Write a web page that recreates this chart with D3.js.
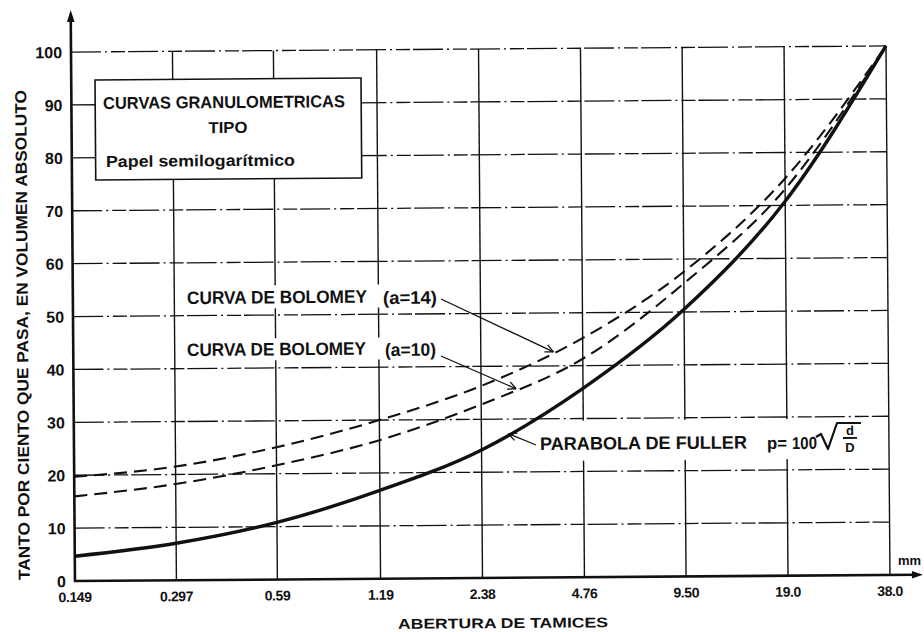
<!DOCTYPE html>
<html>
<head>
<meta charset="utf-8">
<script src="https://cdn.jsdelivr.net/npm/d3@7"></script>
<style>
  html, body { margin: 0; padding: 0; background: #fff; }
  svg { display: block; }
  text { font-family: "Liberation Sans", Arial, sans-serif; font-weight: bold; fill: #111; }
</style>
</head>
<body>
<svg id="chart" width="924" height="632"></svg>
<script>
// ---- data ----
const sieves = [0.149, 0.297, 0.59, 1.19, 2.38, 4.76, 9.50, 19.0, 38.0];
const sieveLabels = ["0.149", "0.297", "0.59", "1.19", "2.38", "4.76", "9.50", "19.0", "38.0"];
const yTicks = [0, 10, 20, 30, 40, 50, 60, 70, 80, 90, 100];
const fuller    = [4.7, 7.0, 10.8, 16.7, 24.2, 35.7, 50.5, 70.8, 100];
const bolomey14 = [19.7, 21.5, 25.0, 30.0, 36.3, 45.2, 57.6, 75.1, 100];
const bolomey10 = [16.0, 18.2, 21.6, 26.2, 32.8, 41.3, 55.4, 73.1, 100];
const boxLines = ["CURVAS GRANULOMETRICAS", "TIPO", "Papel semilogarítmico"];
const xTitle = "ABERTURA DE TAMICES";
const yTitle = "TANTO POR CIENTO QUE PASA, EN VOLUMEN ABSOLUTO";
const unitLabel = "mm";

const svg = d3.select("#chart");
svg.append("rect").attr("width", 924).attr("height", 632).attr("fill", "#fff");

// slight scan rotation of the original page
const ANG = -0.43, CX = 480, CY = 316;
const g = svg.append("g").attr("transform", `rotate(${ANG},${CX},${CY})`);
// convert a position measured on the page into the rotated frame
function P(mx, my) {
  const a = -ANG * Math.PI / 180;
  const dx = mx - CX, dy = my - CY;
  return [CX + dx * Math.cos(a) - dy * Math.sin(a), CY + dx * Math.sin(a) + dy * Math.cos(a)];
}

const x = d3.scaleLog().domain([0.149, 38]).range([73, 888]);
const y = d3.scaleLinear().domain([0, 100]).range([578, 49]);

const ink = "#111";

// ---- grid ----
g.append("g").selectAll("line").data(yTicks.filter(d => d > 0)).join("line")
  .attr("x1", x(sieves[0])).attr("x2", x(sieves[sieves.length - 1]))
  .attr("y1", d => y(d)).attr("y2", d => y(d))
  .attr("stroke", ink).attr("stroke-width", 1.3)
  .attr("stroke-dasharray", "30,4,2,4,14,3");

g.append("g").selectAll("line").data(sieves.slice(1)).join("line")
  .attr("x1", d => x(d)).attr("x2", d => x(d))
  .attr("y1", y(0)).attr("y2", y(100))
  .attr("stroke", ink).attr("stroke-width", 1.4);

// ---- label backgrounds ----
function bg(x0, y0, x1, y1) {
  const a = P(x0, y0);
  g.append("rect").attr("x", a[0]).attr("y", a[1]).attr("width", x1 - x0).attr("height", y1 - y0).attr("fill", "#fff");
}
bg(183, 286, 440, 309);
bg(183, 339, 440, 361);
bg(537, 421, 866, 461);

// ---- curves ----
function seriesPts(vals) { return sieves.map((d, i) => [x(d), y(vals[i])]); }
const line = d3.line().curve(d3.curveMonotoneX);
g.append("path").attr("d", line(seriesPts(bolomey14))).attr("fill", "none")
  .attr("stroke", ink).attr("stroke-width", 2.1).attr("stroke-dasharray", "13,7");
g.append("path").attr("d", line(seriesPts(bolomey10))).attr("fill", "none")
  .attr("stroke", ink).attr("stroke-width", 2.1).attr("stroke-dasharray", "13,7");
g.append("path").attr("d", line(seriesPts(fuller))).attr("fill", "none")
  .attr("stroke", ink).attr("stroke-width", 3.4);

// ---- axes ----
g.append("line").attr("x1", x(sieves[0])).attr("x2", x(sieves[0]))
  .attr("y1", y(0) + 1).attr("y2", 16).attr("stroke", ink).attr("stroke-width", 2.6);
g.append("path").attr("d", `M${x(sieves[0])},7 L${x(sieves[0]) - 3.8},19 L${x(sieves[0]) + 3.8},19 Z`).attr("fill", ink);
g.append("line").attr("x1", x(sieves[0]) - 1).attr("x2", 914)
  .attr("y1", y(0)).attr("y2", y(0)).attr("stroke", ink).attr("stroke-width", 2.6);
g.append("path").attr("d", `M921,${y(0)} L910,${y(0) - 3.8} L910,${y(0) + 3.8} Z`).attr("fill", ink);

// tick labels
g.append("g").selectAll("text").data(yTicks).join("text")
  .attr("x", x(sieves[0]) - 9).attr("y", d => y(d) + 6)
  .attr("text-anchor", "end").attr("font-size", 16).text(d => d);
g.append("g").selectAll("text").data(sieves).join("text")
  .attr("x", d => x(d)).attr("y", y(0) + 21)
  .attr("text-anchor", "middle").attr("font-size", 14).attr("letter-spacing", -0.4)
  .text((d, i) => sieveLabels[i]);

// axis titles
{
  const p = P(503, 628);
  g.append("text").attr("x", p[0]).attr("y", p[1]).attr("text-anchor", "middle")
    .attr("font-size", 14).attr("textLength", 210).attr("lengthAdjust", "spacingAndGlyphs").text(xTitle);
  const q = P(28, 335);
  g.append("text").attr("transform", `translate(${q[0]},${q[1]}) rotate(-90)`)
    .attr("text-anchor", "middle").attr("font-size", 16)
    .attr("textLength", 490).attr("lengthAdjust", "spacingAndGlyphs").text(yTitle);
  const m = P(898, 565);
  g.append("text").attr("x", m[0]).attr("y", m[1]).attr("font-size", 13).attr("font-weight", "normal").text(unitLabel);
}

// ---- title box ----
{
  const a = P(95, 80);
  g.append("rect").attr("x", a[0]).attr("y", a[1]).attr("width", 266).attr("height", 100)
    .attr("fill", "#fff").attr("stroke", ink).attr("stroke-width", 1.6);
  const t1 = P(224, 108);
  g.append("text").attr("x", t1[0]).attr("y", t1[1]).attr("text-anchor", "middle").attr("font-size", 17)
    .attr("textLength", 242).attr("lengthAdjust", "spacingAndGlyphs").text(boxLines[0]);
  const t2 = P(228, 133);
  g.append("text").attr("x", t2[0]).attr("y", t2[1]).attr("text-anchor", "middle").attr("font-size", 16)
    .attr("textLength", 39).attr("lengthAdjust", "spacingAndGlyphs").text(boxLines[1]);
  const t3 = P(106, 167);
  g.append("text").attr("x", t3[0]).attr("y", t3[1]).attr("font-size", 16)
    .attr("textLength", 189).attr("lengthAdjust", "spacingAndGlyphs").text(boxLines[2]);
}

// ---- curve labels ----
function label(str, mx, my, len, size) {
  const p = P(mx, my);
  g.append("text").attr("x", p[0]).attr("y", p[1]).attr("font-size", size || 18)
    .attr("textLength", len).attr("lengthAdjust", "spacingAndGlyphs").text(str);
}
label("CURVA DE BOLOMEY", 187, 304, 180);
label("(a=14)", 383, 304, 54);
label("CURVA DE BOLOMEY", 187, 356, 179);
label("(a=10)", 385, 356, 51);
label("PARABOLA DE FULLER", 540, 450, 207);
label("p=", 767, 449, 20, 17);
label("100", 792, 449, 25, 17);
{
  const pts = [P(816, 437), P(821, 434), P(828, 449), P(837, 423), P(861, 423)];
  g.append("path").attr("d", "M" + pts.map(p => p.join(",")).join("L"))
    .attr("fill", "none").attr("stroke", ink).attr("stroke-width", 2.2).attr("stroke-linejoin", "round");
  const b = P(843, 438);
  g.append("line").attr("x1", b[0]).attr("x2", b[0] + 14).attr("y1", b[1]).attr("y2", b[1]).attr("stroke", ink).attr("stroke-width", 1.8);
  const dd = P(850, 435);
  g.append("text").attr("x", dd[0]).attr("y", dd[1]).attr("text-anchor", "middle").attr("font-size", 13).text("d");
  const DD = P(850, 452);
  g.append("text").attr("x", DD[0]).attr("y", DD[1]).attr("text-anchor", "middle").attr("font-size", 13).text("D");
}

// ---- leader arrows to the curves ----
function valueAt(vals, d) {
  const ld = Math.log(d);
  for (let i = 0; i < sieves.length - 1; i++) {
    const a = Math.log(sieves[i]), b = Math.log(sieves[i + 1]);
    if (ld >= a && ld <= b) return vals[i] + (vals[i + 1] - vals[i]) * (ld - a) / (b - a);
  }
  return vals[vals.length - 1];
}
function leader(mx, my, vals, d) {
  const s = P(mx, my);
  const tx = x(d), ty = y(valueAt(vals, d));
  g.append("line").attr("x1", s[0]).attr("y1", s[1]).attr("x2", tx).attr("y2", ty)
    .attr("stroke", ink).attr("stroke-width", 1.3);
  const ang = Math.atan2(s[1] - ty, s[0] - tx);
  [0.45, -0.45].forEach(o => {
    g.append("line").attr("x1", tx).attr("y1", ty)
      .attr("x2", tx + 9 * Math.cos(ang + o)).attr("y2", ty + 9 * Math.sin(ang + o))
      .attr("stroke", ink).attr("stroke-width", 1.3);
  });
}
leader(441, 299, bolomey14, 3.9);
leader(441, 356, bolomey10, 3.02);
leader(536, 445, fuller, 2.86);
</script>
</body>
</html>
